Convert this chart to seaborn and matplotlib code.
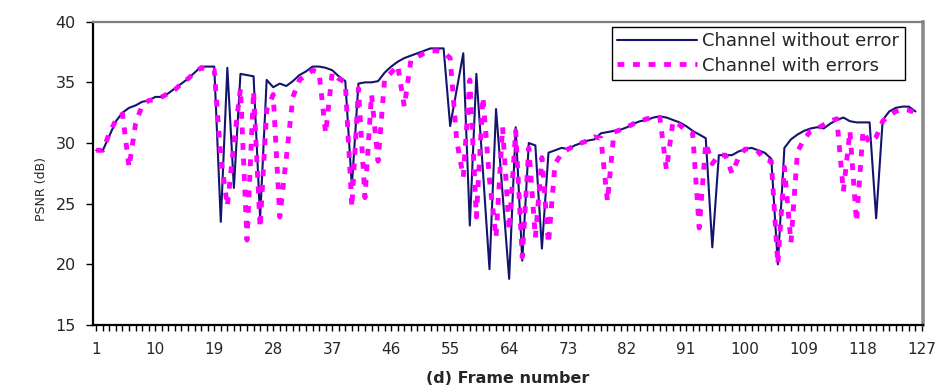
import matplotlib
matplotlib.use("Agg")
import matplotlib.pyplot as plt
import seaborn as sns
import pandas as pd
from matplotlib.ticker import MultipleLocator

# PSNR per decoded frame, frames 1..126
frames = list(range(1, 127))

psnr_without_error = [
    29.4, 29.4, 30.6, 31.8, 32.5, 32.9, 33.1, 33.4, 33.5, 33.8,
    33.8, 34.1, 34.5, 34.9, 35.3, 35.8, 36.3, 36.3, 36.3, 23.5,
    36.2, 26.3, 35.7, 35.6, 35.5, 23.8, 35.2, 34.6, 34.9, 34.7,
    35.1, 35.6, 35.9, 36.3, 36.3, 36.2, 36.0, 35.5, 35.1, 26.4,
    34.9, 35.0, 35.0, 35.1, 35.8, 36.3, 36.7, 37.0, 37.2, 37.4,
    37.6, 37.8, 37.8, 37.8, 31.4, 34.4, 37.4, 23.2, 35.7, 27.7,
    19.6, 32.8, 25.8, 18.8, 31.3, 20.3, 30.0, 29.8, 21.3, 29.2,
    29.4, 29.6, 29.5, 29.8, 30.0, 30.2, 30.3, 30.8, 30.9, 31.0,
    31.1, 31.3, 31.6, 31.8, 31.9, 32.1, 32.2, 32.1, 31.9, 31.7,
    31.4, 31.0, 30.7, 30.4, 21.4, 29.0, 29.0, 29.0, 29.3, 29.5,
    29.6, 29.4, 29.2, 28.7, 20.0, 29.6, 30.3, 30.7, 31.0, 31.2,
    31.3, 31.2, 31.6, 31.9, 32.1, 31.8, 31.7, 31.7, 31.7, 23.8,
    31.9, 32.6, 32.9, 33.0, 33.0, 32.6,
]

psnr_with_errors = [
    29.4, 29.4, 30.8, 31.9, 32.4, 28.0, 31.6, 33.1, 33.5, 33.6,
    33.8, 34.1, 34.4, 34.9, 35.3, 35.8, 36.2, 36.0, 36.0, 28.8,
    24.8, 30.0, 34.5, 22.0, 34.3, 23.0, 32.7, 34.0, 23.9, 28.8,
    33.8, 35.2, 35.6, 36.0, 35.8, 30.8, 35.8, 35.3, 35.0, 24.7,
    34.5, 25.5, 34.0, 28.5, 35.3, 35.8, 36.4, 33.0, 36.8, 37.1,
    37.4, 37.6, 37.6, 37.5, 37.0, 30.2, 27.2, 35.2, 23.9, 33.8,
    27.0, 22.2, 31.3, 22.8, 31.0, 20.6, 29.6, 22.2, 28.8, 21.7,
    28.3, 29.1, 29.5, 29.8, 30.0, 30.2, 30.5, 30.4, 25.2, 30.9,
    31.1, 31.3, 31.6, 31.8, 32.0, 32.1, 32.1, 27.8, 31.8, 31.5,
    31.0, 30.8, 23.0, 30.0, 28.3, 29.0, 29.0, 27.5, 28.8, 29.5,
    29.5, 29.3, 28.6, 28.5, 20.0, 28.0, 21.8, 29.3, 30.3, 31.0,
    31.2, 31.5, 31.8, 32.0, 26.0, 31.0, 23.5, 31.0, 30.0, 30.5,
    31.8, 32.3, 32.6, 32.8, 32.7, 32.5,
]

series_names = ["Channel without error", "Channel with errors"]
xtick_values = [1, 10, 19, 28, 37, 46, 55, 64, 73, 82, 91, 100, 109, 118, 127]
ytick_values = [15, 20, 25, 30, 35, 40]

sns.set_style("white")
plt.rcParams["font.family"] = ["DejaVu Sans"]

clean_df = pd.DataFrame({"frame": frames, "psnr": psnr_without_error})
error_df = pd.DataFrame({"frame": frames, "psnr": psnr_with_errors})

fig = plt.figure(figsize=(9.44, 3.88), dpi=100)
ax = fig.add_axes([93 / 944, 63 / 388, 830 / 944, 303.3 / 388])

sns.lineplot(data=clean_df, x="frame", y="psnr", ax=ax, color="#14146e",
             linewidth=1.5, label=series_names[0], zorder=3)
sns.lineplot(data=error_df, x="frame", y="psnr", ax=ax, color="#ff00ff",
             linewidth=3.5, linestyle=(0, (1.4, 1.8)), dash_capstyle="butt",
             label=series_names[1], zorder=4)

ax.set_xlim(0.5, 127.15)
ax.set_ylim(15, 40)
ax.set_xticks(xtick_values)
ax.set_xticklabels([str(v) for v in xtick_values])
ax.xaxis.set_minor_locator(MultipleLocator(1))
ax.set_yticks(ytick_values)
ax.set_yticklabels([str(v) for v in ytick_values])

ax.tick_params(axis="x", which="both", direction="out", length=4.5, width=1,
               color="black", bottom=True, pad=8, labelsize=11)
ax.tick_params(axis="y", which="major", direction="out", length=5, width=1,
               color="black", left=True, pad=7.5, labelsize=11.5)

for side in ("left", "bottom"):
    ax.spines[side].set_color("black")
    ax.spines[side].set_linewidth(1.6)
ax.spines["top"].set_color("#7f7f7f")
ax.spines["top"].set_linewidth(1.6)
ax.spines["right"].set_color("#8a8a8a")
ax.spines["right"].set_linewidth(2.6)

ax.set_xlabel("(d) Frame number", fontsize=11.5, fontweight="bold")
ax.xaxis.set_label_coords(0.5, -0.152)
ax.set_ylabel("PSNR (dB)", fontsize=9)
ax.yaxis.set_label_coords(-0.054, 0.45)

leg = ax.legend(loc="upper right", bbox_to_anchor=(0.978, 0.983),
                fontsize=13, frameon=True, fancybox=False, framealpha=1,
                edgecolor="black", handlelength=4.4, handletextpad=0.3,
                labelspacing=0.35, borderpad=0.3, borderaxespad=0)
leg.get_frame().set_linewidth(1.0)

fig.savefig("out.png", dpi=100, facecolor="white")
